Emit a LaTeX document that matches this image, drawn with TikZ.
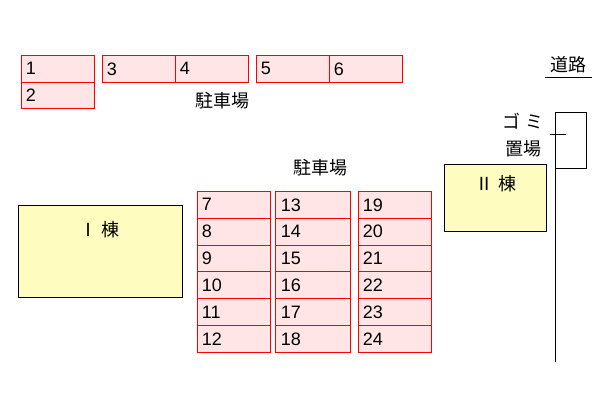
\documentclass[tikz,border=0pt]{standalone}
\usepackage{fontspec}
\setmainfont{Liberation Sans}
\newfontfamily\jp{Noto Sans CJK JP}
\begin{document}
\begin{tikzpicture}[x=1pt,y=-1pt,
 p/.style={draw=red,fill=pink!40,line width=0.8pt,minimum width=73pt,minimum height=26.8pt,anchor=north west,inner sep=0pt,text width=64pt,align=left,font=\fontsize{18}{18}\selectfont},
 b/.style={draw=black,fill=yellow!25,line width=0.8pt,anchor=north west,inner sep=0pt},
 t/.style={font=\jp\fontsize{18}{20}\selectfont,inner sep=0pt}]
\useasboundingbox (0,0) rectangle (600,400);
\node[p] (n1) at (21,55) {1};
\node[p] (n2) at (21,81.5) {2};
\node[p] (n3) at (102,55) {3};
\node[p] (n4) at (175,55) {4};
\node[p] (n5) at (256,55) {5};
\node[p] (n6) at (329,55) {6};
\foreach \i in {0,...,5}{
 \pgfmathtruncatemacro\a{7+\i}\pgfmathtruncatemacro\c{13+\i}\pgfmathtruncatemacro\d{19+\i}
 \node[p] (n\a) at (197,191+26.8*\i) {\a};
 \node[p,minimum width=75pt] (n\c) at (275,191+26.8*\i) {\c};
 \node[p] (n\d) at (358,191+26.8*\i) {\d};}
\node[t] (lot1) at (222,101) {駐車場};
\node[t] (lot2) at (320,168) {駐車場};
\node[b,minimum width=164pt,minimum height=92pt] (b1) at (18,205) {};
\node[t] at (100,230) {Ⅰ 棟};
\node[b,minimum width=102pt,minimum height=67pt] (b2) at (444,164) {};
\node[t] at (496,184) {Ⅱ 棟};
\node[t] (road) at (568,65) {道路};
\draw[line width=0.8pt] (545,77) -- (592,77);
\node[t] (gomi) at (523,121) {ゴ ミ};
\node[t] (gomi2) at (523,149) {置場};
\draw[line width=0.8pt] (555,112) rectangle (586,168);
\draw[line width=0.8pt] (555,112) -- (555,362);
\draw[line width=0.8pt] (550,134) -- (566,134);
\end{tikzpicture}
\end{document}
